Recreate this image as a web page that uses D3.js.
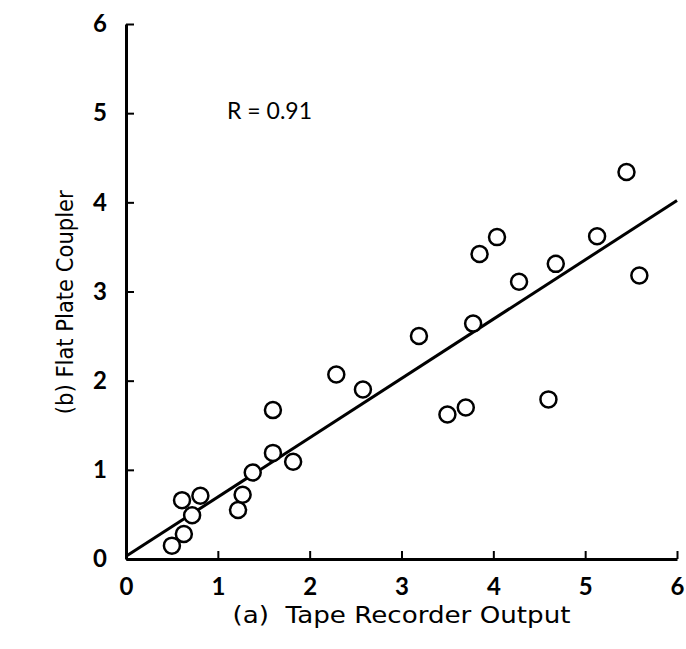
<!DOCTYPE html>
<html>
<head>
<meta charset="utf-8">
<script src="https://cdn.jsdelivr.net/npm/d3@7"></script>
<style>
  body { margin: 0; background: #fff; }
  text { font-family: "Lato", "DejaVu Sans", sans-serif; fill: #000; }
  .tick text { font-weight: bold; font-size: 24px; }
  .axis path, .axis line { stroke: #000; }
  .title { font-family: "DejaVu Sans", sans-serif; }
</style>
</head>
<body>
<svg id="chart" width="686" height="649"></svg>
<script>
// measured values: tape recorder output (a) vs flat plate coupler (b)
var tapeOut = [0.50, 0.63, 0.61, 0.72, 0.81, 1.22, 1.27, 1.38, 1.60, 1.60, 1.82,
               2.29, 2.58, 3.19, 3.50, 3.70, 3.78, 4.60,
               3.85, 4.04, 4.28, 4.68, 5.13, 5.45, 5.59];
var flatPlate = [0.15, 0.28, 0.66, 0.49, 0.71, 0.55, 0.72, 0.97, 1.67, 1.19, 1.09,
                 2.07, 1.90, 2.50, 1.62, 1.70, 2.64, 1.79,
                 3.42, 3.61, 3.11, 3.31, 3.62, 4.34, 3.18];
var fitX = [0, 6];
var fitY = [0.03, 4.02];
var tickVals = [0, 1, 2, 3, 4, 5, 6];
var rLabel = "R = 0.91";
var xTitle = "(a)\u00a0\u00a0Tape Recorder Output";
var yTitle = "(b) Flat Plate Coupler";

var svg = d3.select("#chart"),
  margin = {top: 24, right: 9, bottom: 90, left: 126},
  width = +svg.attr("width") - margin.left - margin.right,
  height = +svg.attr("height") - margin.top - margin.bottom;

var x = d3.scaleLinear().domain([0, 6]).range([0, width]),
  y = d3.scaleLinear().domain([0, 6]).range([height, 0]);

var g = svg.append("g")
  .attr("transform", "translate(" + margin.left + "," + margin.top + ")");

var xAxis = d3.axisBottom(x).tickValues(tickVals).tickFormat(d3.format("d"))
    .tickSize(-8).tickPadding(19).tickSizeOuter(0),
  yAxis = d3.axisLeft(y).tickValues(tickVals).tickFormat(d3.format("d"))
    .tickSize(-8).tickPadding(19).tickSizeOuter(0);

g.append("g")
  .attr("class", "axis axis--x")
  .attr("transform", "translate(0," + height + ")")
  .call(xAxis)
  .call(function(s) {
    s.select(".domain").attr("stroke-width", 3);
    s.selectAll(".tick line").attr("stroke-width", 2);
  });

g.append("g")
  .attr("class", "axis axis--y")
  .call(yAxis)
  .call(function(s) {
    s.select(".domain").attr("stroke-width", 3);
    s.selectAll(".tick line").attr("stroke-width", 2);
  });

// regression line
var line = d3.line()
  .x(function(d) { return x(d[0]); })
  .y(function(d) { return y(d[1]); });

g.append("path")
  .datum(d3.zip(fitX, fitY))
  .attr("d", line)
  .attr("fill", "none")
  .attr("stroke", "#000")
  .attr("stroke-width", 3);

g.selectAll(".pt")
  .data(d3.zip(tapeOut, flatPlate))
  .enter().append("circle")
  .attr("class", "pt")
  .attr("cx", function(d) { return x(d[0]); })
  .attr("cy", function(d) { return y(d[1]); })
  .attr("r", 8)
  .attr("fill", "#fff")
  .attr("stroke", "#000")
  .attr("stroke-width", 2.5);

g.append("text")
  .attr("x", x(1.1))
  .attr("y", y(5.03))
  .attr("dy", "0.35em")
  .attr("font-size", 23)
  .text(rLabel);

svg.append("text")
  .attr("class", "title")
  .attr("x", margin.left + x(3))
  .attr("y", 623)
  .attr("text-anchor", "middle")
  .attr("font-size", 23)
  .attr("textLength", 338)
  .attr("lengthAdjust", "spacingAndGlyphs")
  .text(xTitle);

svg.append("text")
  .attr("class", "title")
  .attr("transform", "translate(73," + (margin.top + y(2.88)) + ") rotate(-90)")
  .attr("text-anchor", "middle")
  .attr("font-size", 23)
  .attr("textLength", 224)
  .attr("lengthAdjust", "spacingAndGlyphs")
  .text(yTitle);
</script>
</body>
</html>
